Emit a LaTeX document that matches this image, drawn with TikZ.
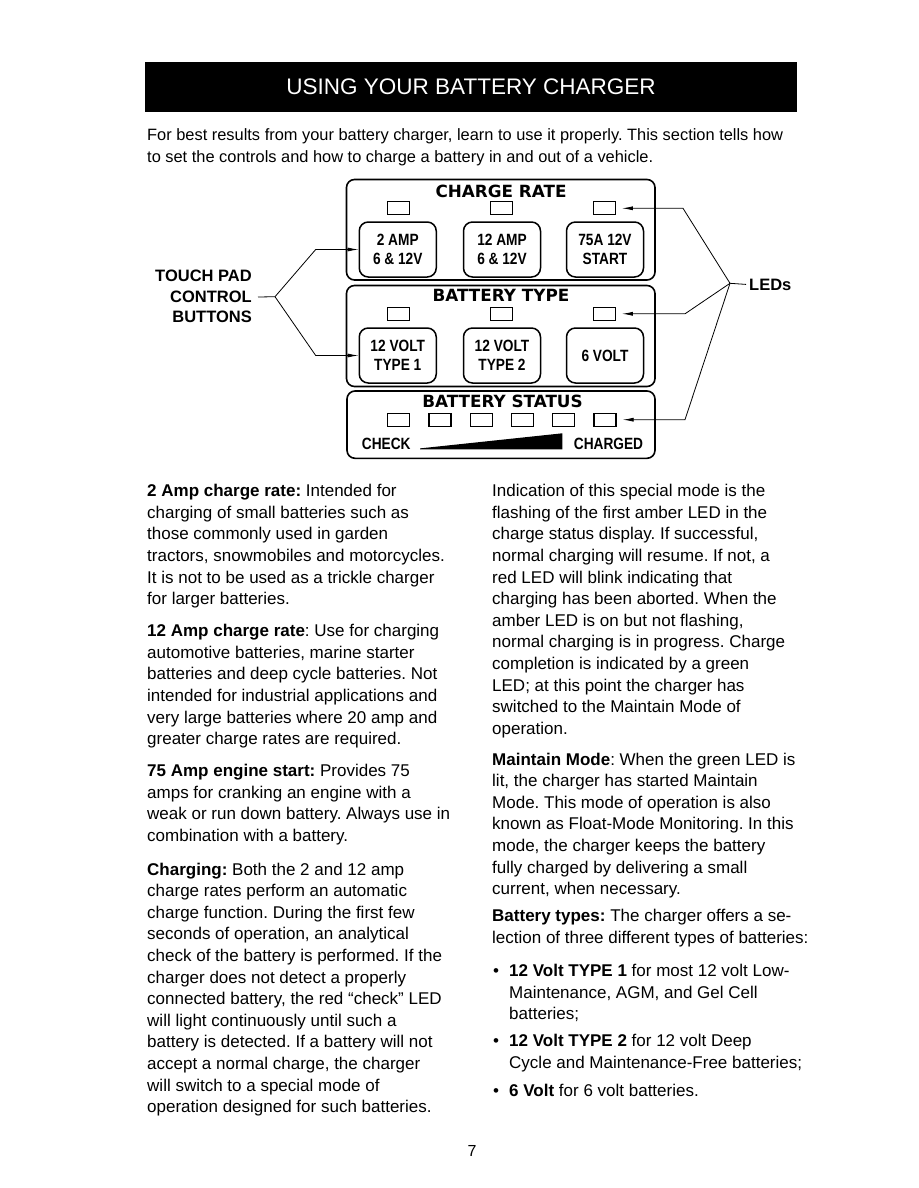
\documentclass[tikz,border=0pt]{standalone}
\usepackage{fontspec}
\setmainfont{Liberation Sans}
\newfontfamily\heavyfont{DejaVu Sans Bold}
\newfontfamily\condfont[FakeStretch=0.84]{Liberation Sans Bold}
\usetikzlibrary{arrows.meta}
\newcommand\paralines[4]{\foreach \myline [count=\i from 0] in {#4} {\node[body] (#1\i) at (#2,#3+\i*21.6) {\myline};}}
\begin{document}
\frenchspacing
\begin{tikzpicture}[x=1pt,y=-1pt,
  body/.style={anchor=base west, inner sep=0pt, font=\fontsize{17}{21.6}\selectfont},
  lbl/.style={inner sep=0pt, font=\fontsize{16.5}{20}\selectfont\bfseries},
  ptitle/.style={anchor=base, inner sep=0pt, font=\heavyfont\fontsize{16.8}{20}\selectfont},
  btn/.style={draw, line width=1.5pt, rounded corners=9pt, minimum width=77pt, minimum height=55pt, inner sep=0pt, align=center, font=\condfont\fontsize{16.3}{18.5}\selectfont},
  clbl/.style={inner sep=0pt, font=\condfont\fontsize{16.3}{18.5}\selectfont},
  led/.style={draw, line width=1.3pt, minimum width=22pt, minimum height=13pt, inner sep=0pt},
  pbox/.style={draw, line width=1.6pt, rounded corners=8pt, inner sep=0pt},
  lead/.style={line width=0.8pt},
  ptr/.style={line width=0.8pt, -{Latex[length=11pt,width=4pt]}}
]
\fill[white] (0,0) rectangle (918,1188);
\useasboundingbox (0,0) rectangle (918,1188);

% header
\node[fill=black, minimum width=652pt, minimum height=50pt, inner sep=0pt, text=white,
      font=\fontsize{22.5}{26}\selectfont] (hdr) at (471,87) {USING YOUR BATTERY CHARGER};

% intro
\begin{scope}[body/.append style={font=\fontsize{16.4}{21.6}\selectfont}]
\paralines{intro}{147}{140.5}{{For best results from your battery charger, learn to use it properly. This section tells how},{to set the controls and how to charge a battery in and out of a vehicle.}}
\end{scope}

% panel boxes
\node[pbox, minimum width=308.5pt, minimum height=100.5pt] (crbox) at (500.75,229.75) {};
\node[pbox, minimum width=308.5pt, minimum height=101pt] (btbox) at (500.75,336) {};
\node[pbox, minimum width=308pt, minimum height=67.3pt] (bsbox) at (501,424.65) {};

\node[ptitle] (crt) at (501,197) {CHARGE RATE};
\node[ptitle] (btt) at (501,301.7) {BATTERY TYPE};
\node[ptitle] (bst) at (502.5,407.3) {BATTERY STATUS};

% LEDs
\node[led] (c1) at (398.2,208.3) {};
\node[led] (c2) at (501.3,208.3) {};
\node[led] (c3) at (604.3,208.3) {};
\node[led] (t1) at (398.2,313.8) {};
\node[led] (t2) at (501.3,313.8) {};
\node[led] (t3) at (604.3,313.8) {};
\node[led] (s1) at (398.3,419.7) {};
\node[led] (s2) at (440,419.7) {};
\node[led] (s3) at (481.7,419.7) {};
\node[led] (s4) at (522.5,419.7) {};
\node[led] (s5) at (563.8,419.7) {};
\node[led] (s6) at (605,419.7) {};

% buttons
\node[btn] (b1) at (397.75,249.5) {2 AMP\\6 \& 12V};
\node[btn] (b2) at (502,249.5) {12 AMP\\6 \& 12V};
\node[btn] (b3) at (605,249.5) {75A 12V\\START};
\node[btn] (b4) at (397.75,355.5) {12 VOLT\\TYPE 1};
\node[btn] (b5) at (502,355.5) {12 VOLT\\TYPE 2};
\node[btn] (b6) at (605,355.5) {6 VOLT};

% status bar
\node[clbl, anchor=base west] (chk) at (361.7,449.3) {CHECK};
\node[clbl, anchor=base east] (chg) at (643.3,449.3) {CHARGED};
\fill (420,448.4) -- (562.3,433.3) -- (562.3,449.3) -- (420,449.3) -- cycle;

% touch pad callout
\node[lbl, anchor=base east] (tp1) at (252,281.7) {TOUCH PAD};
\node[lbl, anchor=base east] (tp2) at (252,302.7) {CONTROL};
\node[lbl, anchor=base east] (tp3) at (252,322.7) {BUTTONS};
\coordinate (tpj) at (275,296.7);
\coordinate (k1) at (315.7,249.5);
\coordinate (k2) at (315.7,355.5);
\draw[lead] ([xshift=6pt]tp2.east) -- (tpj);
\draw[ptr] (tpj) -- (k1) -- (b1.west);
\draw[ptr] (tpj) -- (k2) -- (b4.west);

% LEDs callout
\node[lbl, anchor=base west] (leds) at (749,290) {LEDs};
\coordinate (lj) at (730,283.3);
\coordinate (m1) at (683,208.3);
\coordinate (m2) at (685,313.8);
\coordinate (m3) at (685,419.7);
\draw[lead] (lj) -- ([xshift=-3pt]leds.west);
\draw[ptr] (lj) -- (m1) -- ([xshift=6pt]c3.east);
\draw[ptr] (lj) -- (m2) -- ([xshift=6pt]t3.east);
\draw[ptr] (lj) -- (m3) -- ([xshift=6pt]s6.east);

% left column
\paralines{la}{147}{496.7}{{{\bfseries 2 Amp charge rate:} Intended for},{charging of small batteries such as},{those commonly used in garden},{tractors, snowmobiles and motorcycles.},{It is not to be used as a trickle charger},{for larger batteries.}}
\paralines{lb}{147}{636.7}{{{\bfseries 12 Amp charge rate}: Use for charging},{automotive batteries, marine starter},{batteries and deep cycle batteries. Not},{intended for industrial applications and},{very large batteries where 20 amp and},{greater charge rates are required.}}
\paralines{lc}{147}{776.7}{{{\bfseries 75 Amp engine start:} Provides 75},{amps for cranking an engine with a},{weak or run down battery. Always use in},{combination with a battery.}}
\paralines{ld}{147}{875}{{{\bfseries Charging:} Both the 2 and 12 amp},{charge rates perform an automatic},{charge function. During the first few},{seconds of operation, an analytical},{check of the battery is performed. If the},{charger does not detect a properly},{connected battery, the red “check” LED},{will light continuously until such a},{battery is detected. If a battery will not},{accept a normal charge, the charger},{will switch to a special mode of},{operation designed for such batteries.}}

% right column
\paralines{ra}{492}{496.7}{{Indication of this special mode is the},{flashing of the first amber LED in the},{charge status display. If successful,},{normal charging will resume. If not, a},{red LED will blink indicating that},{charging has been aborted. When the},{amber LED is on but not flashing,},{normal charging is in progress. Charge},{completion is indicated by a green},{LED; at this point the charger has},{switched to the Maintain Mode of},{operation.}}
\paralines{rb}{492}{765}{{{\bfseries Maintain Mode}: When the green LED is},{lit, the charger has started Maintain},{Mode. This mode of operation is also},{known as Float-Mode Monitoring. In this},{mode, the charger keeps the battery},{fully charged by delivering a small},{current, when necessary.}}
\paralines{rc}{492}{921.7}{{{\bfseries Battery types:} The charger offers a se-},{lection of three different types of batteries:}}
\node[body] (bu1) at (493,976.7) {•};
\node[body] (bu2) at (493,1046.7) {•};
\node[body] (bu3) at (493,1096.7) {•};
\paralines{rd}{509}{976.7}{{{\bfseries 12 Volt TYPE 1} for most 12 volt Low-},{Maintenance, AGM, and Gel Cell},{batteries;}}
\paralines{re}{509}{1046.7}{{{\bfseries 12 Volt TYPE 2} for 12 volt Deep},{Cycle and Maintenance-Free batteries;}}
\paralines{rf}{509}{1096.7}{{{\bfseries 6 Volt} for 6 volt batteries.}}

% page number
\node[anchor=base, inner sep=0pt, font=\fontsize{16}{19}\selectfont] (pg) at (472,1156) {7};
\end{tikzpicture}
\end{document}
